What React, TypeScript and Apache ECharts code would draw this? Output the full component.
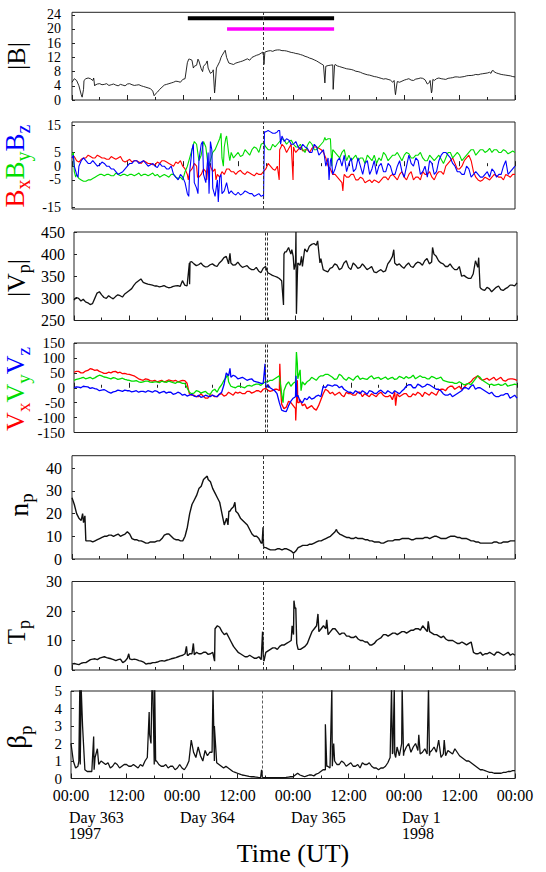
import React, { useEffect, useRef } from "react";
import * as echarts from "echarts";

// ---------- data (index = hour from Day 363 00:00 UT, 1997; *_MID = values at hour + 0.5) ----------
const CLOCK_LABELS = ["00:00", "12:00"];
const DAY_STARTS = [0, 24, 48, 72];
const DAY_LABELS = ["Day 363\n1997", "Day 364", "Day 365", "Day 1\n1998"];

const SHOCK_TIME = [41.4];
const SHOCK_TIME_DOUBLE = [41.35, 41.8];
const SHOCK_TIME_BETA = [41.3];

const BAR_BLACK = [25.1, 56.8];
const BAR_BLACK_LEVEL = 23;
const BAR_MAGENTA = [33.6, 56.8];
const BAR_MAGENTA_LEVEL = 20;

const B_MAG = [
  5, 5.5, 1.5, 6, 6, 4.2, 4.6, 4.4, 4.1, 4.5, 4.0, 4.2,
  4.5, 4.3, 4.2, 4.0, 3.6, 3.2, 1.6, 3.0, 4.2, 4.6, 5.0, 5.2,
  5.8, 10.5, 11.2, 9.8, 8.8, 10.2, 7.5, 3.5, 10.8, 13.6, 10.4, 10.0,
  10.6, 11.0, 11.6, 12.0, 12.6, 13.2, 13.6, 13.9, 14.0, 14.1, 13.9, 13.6,
  13.3, 13.0, 12.6, 12.1, 11.6, 11.0, 10.2, 9.5, 9.8, 10.0, 9.4, 9.0,
  8.7, 8.4, 8.0, 7.5, 7.1, 6.8, 6.5, 6.1, 6.0, 5.6, 2.5, 5.0,
  5.6, 6.0, 5.5, 6.0, 6.1, 4.5, 2.5, 6.0, 6.0, 5.8, 6.2, 6.5,
  6.4, 6.6, 6.9, 7.0, 7.1, 7.4, 7.6, 8.2, 7.6, 7.2, 7.0, 6.8,
  6.5,
];
const B_MAG_MID = [
  6, 4, 3, 6.2, 5.5, 4.5, 4.3, 4.6, 4.3, 4.2, 4.4, 4.0,
  4.6, 4.1, 4.3, 3.8, 3.4, 2.5, 2.2, 3.6, 4.4, 4.8, 5.3, 5.0,
  6.0, 11.5, 9.5, 11.0, 9.5, 9.0, 8.0, 9.5, 12.5, 12.0, 10.2, 10.4,
  10.8, 11.3, 11.2, 12.3, 12.8, 12.5, 13.8, 13.7, 14.1, 13.9, 13.8, 13.4,
  13.1, 12.8, 12.3, 11.8, 11.3, 10.6, 9.8, 9.7, 9.9, 9.6, 9.2, 8.8,
  8.6, 8.1, 7.8, 7.3, 7.0, 6.6, 6.3, 5.9, 5.8, 5.0, 5.2, 5.3,
  5.8, 5.6, 5.9, 6.2, 5.7, 5.0, 5.5, 6.2, 5.9, 6.1, 6.3, 6.5,
  6.5, 6.8, 6.9, 7.2, 7.3, 7.5, 7.8, 7.9, 7.4, 7.1, 6.9, 6.6,
];
const B_MAG_DETAIL = [
  [2.2, 0.8], [2.6, 5.5], [4.7, 6.2], [4.9, 4], [17.8, 1.2],
  [25.3, 11.5], [26.3, 9], [27.3, 11.5], [28.3, 8], [29.3, 11], [30.6, 8.5], [30.9, 2],
  [31.3, 9], [32.3, 12], [33.2, 14], [33.8, 11], [41.3, 13.5], [41.6, 10], [41.8, 13.5],
  [54.8, 4.8], [55.1, 9.6], [56.6, 3], [56.9, 9.8], [69.8, 5.5], [70.1, 1.5], [70.4, 4.5],
  [77.6, 5.5], [77.9, 2], [78.2, 5.8], [90.8, 7.5], [91.3, 8.3],
];

const B_X = [
  3, 2, 2.5, 3, 3.5, 3, 3.5, 3, 2.5, 3, 3, 2,
  2, 1.5, 2, 1, 1.5, 1, 0.5, 1, 2, 1, 0, 1,
  0, -3, -1, 0, -3, -2, 0, -1, -4, -3, -1, -2,
  -2, -2.5, -2, -3, -2.5, -3, -1, 0, -1.5, 6, 7, 6.5,
  7, 6, 5.5, 6, 6.5, 7, 6, 3, -1, -3, -5, -3,
  -4, -3, -5, -4.5, -5.5, -6, -5.5, -5, -4, -3.5, -4, -3,
  -4, -3, -5, -4, -2, -3, -4, -3, -2, 0, 2, 1,
  -1, 2, 4, -2, -5, -5, -4.5, -4, -3.5, -4, -3, -4,
  -3,
];
const B_X_MID = [
  3.5, 1.5, 3, 4, 3, 4, 3, 2.5, 3.5, 2.5, 3.5, 1.5,
  2.5, 2, 1.5, 2, 1, 0.5, 1.5, 2, 1.5, 0.5, 1.5, 2,
  -1, -2, 1, -4, -1, 1, -2, -3, -2, -1, -2, -3,
  -1.5, -3, -2.5, -3.5, -3, -2, 1, -1, 0, 8, 5, 8,
  5, 7, 6, 5, 7, 6.5, 5, 0, -3, -4, -6, -4,
  -3, -5, -4, -6, -5, -5, -6, -4, -5, -3, -5, -2,
  -5, -2, -4, -5, -3, -2, -5, -2, -3, 1, 3, -1,
  0, 3, 2, -4, -5.5, -4, -5, -3, -4, -5, -3.5, -3,
];
const B_X_DETAIL = [
  [25.2, -5], [27.2, -4], [29.2, -5], [31.2, -5], [44.9, -5], [45.3, 7], [47.9, -5], [48.2, 6],
  [58.7, -9], [58.9, -4],
];

const B_Y = [
  4, -3, -5, -5.5, -5, -4, -3, -3.5, -3, -3.5, -3, -3,
  -3.5, -3, -3, -3.5, -3, -3, -3.5, -4, -3, -4, -3, -4.5,
  -5, 0, 6, 8, 4, 7, 2, 6, 10, 7, 4, 3,
  5, 4, 5, 6, 6.5, 8, 7, 6, 7, 9, 9.5, 9,
  8, 7, 6, 7.5, 8, 6, 8, 9.5, 10, 5, 3, 6,
  4, 3, 2, 3, 4, 2, 1, 2, 4, 3, 4, 3.5,
  4, 4.5, 3, 4, 3, 2, 3, 3, 2.5, 3, 5, 4,
  4, 3, 5, 6, 5, 6, 5.5, 5, 6, 5, 5.5, 5,
  5,
];
const B_Y_MID = [
  -2, -4.5, -5.5, -5, -4.5, -3.5, -3, -3, -3.5, -2.5, -3.5, -3,
  -3, -3.5, -2.5, -3, -3.5, -2.5, -3, -3.5, -3.5, -3, -4, -4,
  -2, 3, 9, 2, 9, 0, 5, 8, 3, 11, 5, 4,
  3.5, 6, 4, 7, 5, 8.5, 6, 8, 8, 10, 8, 9.5,
  7, 8, 5, 9, 6, 7, 9, 10, 6, 4, 5, 2,
  2, 4, 3, 1, 3, 4, 3, 5, 2, 4, 5, 2,
  5, 3, 4, 5, 2, 4, 2, 4, 1, 5, 3, 5,
  2, 4, 6, 4, 6, 5, 6.5, 6, 5, 6, 4.5, 5.5,
];
const B_Y_DETAIL = [
  [0.3, 5], [0.8, -4], [32.3, 12], [32.8, 0], [33.3, 10], [34.2, 2], [54.8, 10.5], [56.3, 0],
];

const B_Z = [
  3, -3, 2, 2, 1, 1, 0.5, 1, 0, -1, -3, -2,
  0, 1, 2, 1.5, 1, 0.5, 0, 1, 0, -1, -3, -5,
  -4, -10, 6, -8, 8, -6, 9, -11, -4, -9, -10, -10,
  -9.5, -10, -9.5, -10, -10.5, -11, 12.5, 12.5, 12, 13, 9, 9.5,
  8, 7, 8, 6.5, 5, 7, 5, 0, 2, -1, 3, 4,
  1, -2, 3, -3, 2, -1, -3, 1, -2, 0, -3, 2,
  -4, 4, 0, 2, -2, -4, 1, -2, 4, 5, 3, 0,
  -2, -3, -1, -3, -3, -4, -2, -1, -4, -3, 2, -2,
  0,
];
const B_Z_MID = [
  0, 0, 3, 1, 2, 0, 1.5, 0, -1, -2, -2.5, -1,
  1, 2, 1, 2, 0, 1, -0.5, 0, -1, 0, -4, -3,
  -6, -2, -6, 2, -3, 5, -8, -5, -10, -6, -9, -10.5,
  -10.5, -9, -10, -11, -10, -10.5, 13, 12, 12.5, 11, 10, 8,
  9, 6, 7, 5, 8, 4, 6, 3, -3, 2, 0, -2,
  3, -1, 0, 1, -3, 2, 0, -2, 1, -3, 0, -2,
  0, 1, 3, -3, 0, 2, -3, 2, 5, 4, 1, -2,
  -3, 0, -4, -2, -4, -3, -4, -2, -3, 0, -3, -1,
];
const B_Z_DETAIL = [
  [0.3, 4], [1.3, -4], [25.3, -11], [26.3, 8], [27.3, -10], [28.3, 9], [29.7, -10],
  [30.3, 6], [31.7, -13], [32.3, -3], [41.5, -12], [41.7, 12.5], [44.7, 13], [45.2, 8],
  [55.7, -5], [56.2, 3],
];

const V_P = [
  296, 300, 298, 290, 288, 312, 308, 300, 302, 304, 306, 310,
  318, 330, 340, 336, 332, 330, 328, 327, 326, 325, 328, 327,
  330, 380, 378, 376, 374, 372, 378, 372, 385, 395, 380, 376,
  375, 372, 368, 365, 362, 368, 358, 352, 348, 340, 405, 400,
  380, 375, 412, 418, 424, 410, 365, 360, 370, 375, 368, 385,
  365, 375, 370, 372, 368, 360, 362, 360, 378, 395, 375, 372,
  375, 372, 378, 380, 385, 378, 400, 385, 378, 372, 370, 365,
  350, 348, 345, 385, 325, 318, 322, 320, 328, 318, 325, 330,
  335,
];
const V_P_MID = [
  302, 294, 292, 286, 300, 315, 302, 306, 299, 308, 303, 314,
  322, 336, 344, 334, 331, 328, 326, 329, 324, 327, 329, 340,
  328, 383, 374, 380, 371, 376, 374, 380, 392, 378, 375, 382,
  370, 374, 365, 370, 358, 372, 355, 350, 345, 400, 415, 395,
  380, 372, 405, 422, 420, 390, 362, 368, 378, 365, 380, 370,
  380, 368, 378, 365, 372, 358, 365, 362, 385, 380, 378, 368,
  380, 370, 382, 375, 390, 382, 395, 380, 372, 378, 365, 372,
  352, 345, 355, 370, 320, 325, 315, 325, 320, 322, 330, 328,
];
const V_P_DETAIL = [
  [25.05, 332], [25.15, 382], [33.8, 402], [45.4, 285], [45.7, 405], [47.2, 410],
  [47.7, 365], [48.1, 450], [48.2, 265], [48.4, 350], [49.3, 395], [52.8, 430],
  [53.3, 380], [69.3, 410], [77.7, 415], [87.7, 392], [88.2, 322],
];

const V_X = [
  52, 55, 50, 58, 62, 60, 52, 48, 50, 55, 52, 48,
  45, 40, 30, 25, 28, 22, 20, 25, 22, 24, 25, 22,
  24, -20, -25, -30, -28, -35, -25, -30, -20, -25, -20, -15,
  -15, -20, -12, -15, -10, -5, -8, -10, -5, -55, -65, -50,
  -70, -40, -55, -65, -70, -60, -20, -10, -15, -20, -25, -15,
  -20, -25, -15, -20, -30, -25, -20, -25, -30, -40, -20, -25,
  -20, -30, -25, -20, -15, -25, -20, -10, -5, 0, 5, 0,
  -5, 10, 20, 35, 30, 28, 25, 35, 30, 25, 28, 30,
  25,
];
const V_X_MID = [
  55, 50, 56, 64, 58, 55, 48, 52, 54, 50, 47, 46,
  42, 35, 27, 30, 24, 25, 22, 20, 26, 22, 20, 25,
  15, -25, -30, -20, -35, -25, -30, -22, -28, -15, -25, -18,
  -20, -12, -18, -10, -15, -2, -12, -5, -10, -70, -45, -60,
  -50, -60, -70, -60, -75, -40, -5, -20, -25, -15, -30, -20,
  -25, -15, -30, -25, -20, -30, -15, -30, -25, -15, -30, -20,
  -30, -20, -15, -30, -20, -15, -25, -5, -10, 5, -5, 5,
  0, 15, 30, 40, 25, 32, 30, 25, 35, 22, 30, 28,
];
const V_X_DETAIL = [
  [44.6, 80], [44.8, -10], [48.05, -110], [48.4, 25], [48.8, -50], [69.7, -60],
];

const V_Y = [
  25, 30, 35, 32, 30, 38, 40, 35, 30, 32, 30, 28,
  25, 22, 20, 20, 22, 18, 20, 22, 18, 20, 15, 18,
  15, -15, -18, -12, -15, -20, -10, -15, 10, 35, 5, 0,
  5, 0, 8, 10, 12, 15, 20, 25, 35, -20, 10, 5,
  20, 60, 10, 25, 30, 35, 40, 45, 35, 30, 40, 25,
  30, 35, 28, 30, 35, 30, 35, 32, 28, 35, 30, 35,
  38, 35, 30, 40, 35, 30, 35, 32, 25, 20, 18, 15,
  15, 12, 10, 30, 35, 20, 10, 8, 12, 10, 5, 10,
  10,
];
const V_Y_MID = [
  28, 32, 30, 35, 33, 42, 36, 32, 34, 28, 32, 26,
  22, 24, 18, 22, 19, 20, 17, 20, 22, 17, 20, 15,
  0, -20, -10, -18, -12, -22, -5, 0, 25, 20, 2, 5,
  2, 6, 5, 12, 8, 20, 25, 30, 40, -10, 20, 15,
  30, 20, 20, 35, 25, 40, 45, 40, 28, 45, 30, 35,
  25, 40, 32, 28, 40, 33, 28, 36, 32, 28, 38, 30,
  32, 42, 35, 35, 30, 38, 30, 36, 22, 18, 15, 20,
  10, 15, 20, 40, 25, 15, 12, 10, 8, 15, 8, 12,
];
const V_Y_DETAIL = [
  [33.3, 45], [45.3, -50], [48.2, 120], [48.4, 80], [49.2, -10],
];

const V_Z = [
  0, 2, 5, 3, 0, -5, -8, -10, -18, -12, -10, -8,
  -10, -12, -15, -12, -10, -15, -12, -15, -18, -15, -20, -18,
  -22, -25, -28, -25, -30, -28, -25, -30, -15, 50, 35, 38,
  32, 30, 28, 22, 18, 15, 10, -5, -20, -75, -80, -45,
  -30, -45, -35, -30, -35, -25, 5, 10, 5, 8, 5, -10,
  -15, -10, -20, -15, -10, -18, -12, -15, -10, -20, -15, -12,
  5, 10, 0, 8, 5, 10, 0, -5, -20, -25, -30, -20,
  -10, 0, 5, -5, 0, -10, -20, -25, -30, -25, -20, -30,
  -35,
];
const V_Z_MID = [
  3, 0, 4, -2, -3, -10, -6, -15, -14, -8, -12, -10,
  -14, -10, -12, -15, -12, -10, -18, -12, -15, -22, -15, -25,
  -28, -22, -30, -32, -25, -30, -28, -22, 10, 40, 42, 30,
  35, 25, 30, 20, 15, 25, 0, -10, -50, -78, -60, -35,
  -25, -50, -40, -38, -28, -30, 0, 8, 10, 0, -5, -15,
  -20, -15, -10, -22, -12, -20, -8, -20, -15, -10, -20, -5,
  10, 0, 12, 2, 12, 5, -5, -10, -25, -20, -25, -15,
  0, -5, 10, 0, -5, -15, -15, -30, -25, -20, -35, -25,
];
const V_Z_DETAIL = [
  [33.8, 65], [41.4, 80], [41.6, 0], [48.1, 40], [48.3, -30],
];

const N_P = [
  27, 20, 17, 8, 8, 8, 9, 10, 10.5, 10, 11, 10.5,
  12, 9, 8.5, 8, 7, 7.5, 7.5, 8, 10.5, 11, 9, 8.5,
  8, 14, 24, 28, 32, 36, 34, 29, 25, 15, 21, 23,
  20, 17, 15, 11, 10, 7, 5, 4, 4, 4.5, 4.5, 4,
  2.5, 5, 6, 6, 6.5, 7.5, 8, 9, 10, 12, 11, 10,
  9.5, 9, 9, 9, 8.5, 8, 7.5, 7, 7.5, 8, 8.5, 8.5,
  9, 9, 8.5, 9, 9, 9.5, 9.5, 10, 9, 9, 10, 10,
  9.5, 9, 8.5, 8, 7.5, 7, 7, 7, 7.5, 7, 7.5, 8,
  8,
];
const N_P_MID = [
  24, 18, 16, 8, 7.5, 8.5, 9.5, 10, 10.5, 10.5, 10, 11,
  11, 8.5, 8, 7.5, 7, 7.5, 8, 9, 11, 10, 8.5, 8,
  10, 20, 26, 31, 35, 35, 31, 27, 20, 18, 22, 21,
  18, 16, 13, 10, 9, 6, 4.5, 4, 4.5, 4, 4.5, 3.5,
  3.5, 5.5, 6, 6.5, 7, 8, 8.5, 9.5, 11, 12, 10.5, 9.5,
  9, 9.5, 9, 8.5, 8, 7.5, 7.5, 7, 8, 8, 8.5, 9,
  9, 8.5, 9, 9, 9.5, 9, 10, 9.5, 9, 9.5, 10, 9.5,
  9, 9, 8, 7.5, 7, 7, 7, 7.5, 7, 7.5, 7.5, 8,
];
const N_P_DETAIL = [
  [2.3, 20], [2.8, 19], [29.3, 36.5], [33.8, 15], [34.2, 21],
  [35.3, 25], [41.2, 7], [41.4, 14], [41.6, 5], [57.3, 13],
];

const T_P = [
  2, 2, 2.3, 2.5, 3.5, 3.8, 4, 4.5, 4, 3.5, 3.5, 2.5,
  4, 3.5, 3.5, 3, 2, 2.2, 2.5, 3, 3, 3.5, 4, 4.5,
  5, 5, 5.5, 6, 5.5, 6, 5.5, 14, 14.5, 12, 11, 8,
  6, 5, 4.5, 4.5, 4, 3.5, 6, 7, 7.5, 8, 8.5, 9.5,
  12, 7, 7.5, 9, 13, 15, 14, 14, 13, 14, 12, 12.5,
  11.5, 11, 10.5, 10, 9.5, 8.5, 10, 11, 12, 12, 12.5, 12.5,
  13, 13, 13.5, 14, 15, 13, 12.5, 12, 11, 10.5, 10, 9.5,
  9, 9, 9, 6, 5.5, 5, 5.5, 5.5, 6, 5.5, 5.5, 5,
  5,
];
const T_P_MID = [
  2.2, 1.8, 2.5, 3, 3.7, 3.5, 4.3, 4.2, 3.8, 3.2, 3.7, 3,
  3.8, 3.7, 3.2, 2.7, 2.2, 2.5, 2.7, 3.2, 3.3, 3.8, 4.2, 4.8,
  5.5, 5.5, 5.2, 5.5, 6, 5.3, 6, 15, 13, 12.5, 9.5, 7,
  5.5, 4.5, 5, 4, 4.5, 3.5, 6.5, 7.5, 7, 8.5, 9, 10,
  21, 7, 8, 11, 14, 13, 15, 12, 14, 13, 12.5, 11.5,
  11, 11.5, 10, 9.5, 8.5, 9, 10.5, 12, 11.5, 12.5, 12, 13,
  12.5, 13.5, 14, 13.5, 14, 13, 12, 11.5, 11.5, 10, 10, 9,
  9.5, 8.5, 9.5, 5.5, 6, 5.5, 6, 5, 6, 5, 6, 5.5,
];
const T_P_DETAIL = [
  [12.3, 5.5], [24.8, 8], [25.2, 5], [26.3, 9], [26.7, 5.5], [30.9, 3], [31.1, 14],
  [41.3, 13], [41.6, 3], [47.7, 15], [48.1, 23.5], [48.3, 21], [48.7, 9], [49.3, 7],
  [53.3, 19], [55.2, 17], [77.2, 16.5],
];

const BETA_P = [
  2, 0.6, 0.8, 0.5, 0.4, 0.5, 0.8, 0.9, 0.9, 0.7, 0.8, 0.7,
  0.8, 0.7, 0.7, 0.8, 1.0, 2.5, 0.8, 0.8, 0.7, 0.6, 0.7, 0.6,
  0.6, 0.7, 2.2, 1.2, 1.3, 1.6, 1.5, 1.0, 0.8, 0.6, 0.6, 0.4,
  0.3, 0.2, 0.15, 0.1, 0.08, 0.05, 0.05, 0.05, 0.05, 0.05, 0.05, 0.08,
  0.1, 0.3, 0.15, 0.15, 0.2, 0.25, 0.4, 0.5, 0.6, 1.0, 0.8, 0.9,
  0.8, 0.7, 0.8, 0.9, 0.8, 0.7, 0.6, 0.6, 0.7, 1.2, 1.4, 1.3,
  1.5, 2.0, 1.8, 1.6, 1.5, 1.4, 1.6, 1.5, 1.2, 1.3, 1.5, 1.7,
  1.3, 1.1, 1.0, 0.8, 0.6, 0.5, 0.4, 0.35, 0.3, 0.3, 0.35, 0.4,
  0.45,
];
const BETA_P_MID = [
  1, 0.7, 3, 0.4, 0.4, 1.5, 1.0, 0.8, 0.6, 0.9, 0.6, 0.8,
  0.7, 0.8, 0.6, 0.7, 1.2, 5.2, 1.0, 0.7, 0.8, 0.7, 0.5, 0.8,
  0.5, 1.0, 1.5, 1.8, 1.0, 1.3, 1.5, 0.9, 0.7, 0.7, 0.5, 0.35,
  0.25, 0.18, 0.12, 0.1, 0.06, 0.05, 0.05, 0.05, 0.05, 0.05, 0.06, 0.1,
  0.2, 0.2, 0.1, 0.2, 0.15, 0.3, 0.5, 0.7, 0.7, 0.8, 1.0, 0.7,
  0.9, 0.7, 0.6, 0.8, 0.9, 0.6, 0.5, 0.6, 0.9, 1.4, 1.8, 2.0,
  1.8, 1.5, 2.0, 1.4, 1.7, 1.3, 1.8, 2.2, 1.4, 1.6, 1.4, 1.5,
  1.2, 1.0, 0.9, 0.7, 0.5, 0.45, 0.35, 0.3, 0.3, 0.35, 0.4, 0.45,
];
const BETA_P_DETAIL = [
  [1.7, 1], [1.9, 5.2], [2.2, 5.2], [4.9, 2.4], [5.2, 1.2], [5.7, 1.7],
  [16.9, 3.8], [17.3, 2], [17.7, 5.2], [18.1, 5.2], [18.3, 1], [30.7, 5.2], [31.0, 3],
  [41.2, 0.5], [41.4, 0.05], [55.0, 3.1], [55.3, 0.7], [56.4, 5.2], [56.8, 2],
  [69.3, 5.2], [69.6, 1.5], [69.9, 5.2], [70.2, 1.2], [71.6, 5.2], [71.9, 1.3],
  [75.2, 2.5], [77.3, 5.2], [77.6, 1.5], [80.7, 2.2],
];

// y axis labels per panel
const Y_LABELS = [
  [0, 4, 8, 12, 16, 20, 24],
  [-15, -10, -5, 0, 5, 10, 15],
  [250, 300, 350, 400, 450],
  [-150, -100, -50, 0, 50, 100, 150],
  [0, 10, 20, 30, 40],
  [0, 10, 20, 30],
  [0, 1, 2, 3, 4, 5],
];
const Y_RANGES = [
  [0, 24.7],
  [-15.6, 16.1],
  [250, 450],
  [-150, 150],
  [0, 45.5],
  [0, 30],
  [0, 5],
];

// ---------- layout / style ----------
const FONT = "Liberation Serif";
const RED = "#ff0000";
const GREEN = "#00dd00";
const BLUE = "#0000ff";

const GRIDS = [
  { left: 72, top: 12.3, width: 443, height: 87.7 },
  { left: 72, top: 122, width: 443, height: 87 },
  { left: 74, top: 232, width: 443, height: 88.5 },
  { left: 74, top: 343, width: 443, height: 89.5 },
  { left: 72, top: 455.7, width: 443, height: 103.3 },
  { left: 72, top: 581.5, width: 443, height: 88.5 },
  { left: 71, top: 691, width: 444, height: 87.5 },
];
const Y_LABEL_SIZE = [14, 14, 16, 15, 16, 16, 15];
const Y_LABEL_MARGIN = [11, 11, 9, 9, 10, 10, 9];

function merge(base: number[], mid: number[], detail: number[][]) {
  const pts = base
    .map((v, i) => [i, v])
    .concat(mid.map((v, i) => [i + 0.5, v]))
    .concat(detail);
  pts.sort((a, b) => a[0] - b[0]);
  return pts;
}

function markLineFor(times: number[], width = 1) {
  return {
    silent: true,
    symbol: "none",
    label: { show: false },
    lineStyle: { type: [3, 2], color: "#333", width },
    data: times.map((t) => ({ xAxis: t })),
  };
}

function lineSeries(k: number, data: number[][], color: string, width: number, extra: any = {}) {
  return {
    type: "line",
    xAxisIndex: k,
    yAxisIndex: k,
    data,
    symbol: "none",
    showSymbol: false,
    clip: true,
    lineStyle: { color, width },
    itemStyle: { color },
    z: 2,
    ...extra,
  };
}

function titleText(x: number, y: number, text: string, rich: any) {
  return {
    type: "text",
    x,
    y,
    rotation: Math.PI / 2,
    style: {
      text,
      rich,
      align: "center",
      verticalAlign: "middle",
      textAlign: "center",
      textVerticalAlign: "middle",
      fill: "#000",
      font: `26px "${FONT}"`,
    },
  };
}

function mainTok(color: string, size: number) {
  return { fontSize: size, fontFamily: FONT, fill: color, color, lineHeight: size };
}
function subTok(color: string, size: number, drop: number) {
  return { fontSize: size, fontFamily: FONT, fill: color, color, lineHeight: size, padding: [drop, 0, 0, 0] };
}

export default function App() {
  const ref = useRef<HTMLDivElement>(null);

  useEffect(() => {
    if (!ref.current) return;
    const chart = echarts.init(ref.current, undefined, { renderer: "svg" });

    const xAxes: any[] = GRIDS.map((_, k) => ({
      gridIndex: k,
      type: "value",
      min: 0,
      max: 96,
      interval: 12,
      axisLine: { show: false },
      axisTick: { show: true, inside: true, length: 5, lineStyle: { color: "#222", width: 1 } },
      minorTick: { show: true, splitNumber: 2, length: 3, lineStyle: { color: "#222", width: 1 } },
      splitLine: { show: false },
      minorSplitLine: { show: false },
      axisLabel: {
        show: k === 6,
        formatter: (v: number) => CLOCK_LABELS[Math.round(v / 12) % 2],
        fontFamily: FONT,
        fontSize: 16,
        color: "#000",
        margin: 9,
        showMinLabel: true,
        showMaxLabel: true,
      },
      ...(k === 6
        ? {
            name: "Time (UT)",
            nameLocation: "middle",
            nameGap: 62,
            nameTextStyle: { fontFamily: FONT, fontSize: 26, color: "#000" },
          }
        : {}),
    }));
    xAxes.push({
      gridIndex: 6,
      type: "value",
      position: "bottom",
      min: 0,
      max: 96,
      axisLine: { show: false },
      axisTick: { show: false },
      splitLine: { show: false },
      axisLabel: {
        customValues: DAY_STARTS,
        interval: 0,
        formatter: (v: number) => DAY_LABELS[DAY_STARTS.indexOf(v)] ?? "",
        align: "left",
        fontFamily: FONT,
        fontSize: 16,
        lineHeight: 16,
        color: "#000",
        margin: 31,
        padding: [0, 0, 0, -2],
        showMinLabel: true,
        showMaxLabel: true,
      },
    });

    const yAxes = GRIDS.map((_, k) => ({
      gridIndex: k,
      type: "value",
      min: Y_RANGES[k][0],
      max: Y_RANGES[k][1],
      axisLine: { show: false },
      axisTick: {
        show: true,
        inside: true,
        length: 3,
        interval: 0,
        customValues: Y_LABELS[k],
        lineStyle: { color: "#222" },
      },
      splitLine: { show: false },
      axisLabel: {
        customValues: Y_LABELS[k],
        interval: 0,
        fontFamily: FONT,
        fontSize: Y_LABEL_SIZE[k],
        lineHeight: Y_LABEL_SIZE[k] - 2,
        color: "#000",
        margin: Y_LABEL_MARGIN[k],
        showMinLabel: true,
        showMaxLabel: true,
      },
    }));

    const series: any[] = [
      lineSeries(0, merge(B_MAG, B_MAG_MID, B_MAG_DETAIL), "#111", 0.9, { markLine: markLineFor(SHOCK_TIME) }),
      lineSeries(0, [[BAR_BLACK[0], BAR_BLACK_LEVEL], [BAR_BLACK[1], BAR_BLACK_LEVEL]], "#000", 4),
      lineSeries(0, [[BAR_MAGENTA[0], BAR_MAGENTA_LEVEL], [BAR_MAGENTA[1], BAR_MAGENTA_LEVEL]], "#ff00ff", 3.5),
      lineSeries(1, merge(B_X, B_X_MID, B_X_DETAIL), RED, 1.1, { markLine: markLineFor(SHOCK_TIME) }),
      lineSeries(1, merge(B_Y, B_Y_MID, B_Y_DETAIL), GREEN, 1.1),
      lineSeries(1, merge(B_Z, B_Z_MID, B_Z_DETAIL), BLUE, 1.1),
      lineSeries(2, merge(V_P, V_P_MID, V_P_DETAIL), "#111", 1.3, { markLine: markLineFor(SHOCK_TIME_DOUBLE) }),
      lineSeries(3, merge(V_X, V_X_MID, V_X_DETAIL), RED, 1.3, { markLine: markLineFor(SHOCK_TIME_DOUBLE) }),
      lineSeries(3, merge(V_Y, V_Y_MID, V_Y_DETAIL), GREEN, 1.3),
      lineSeries(3, merge(V_Z, V_Z_MID, V_Z_DETAIL), BLUE, 1.3),
      lineSeries(4, merge(N_P, N_P_MID, N_P_DETAIL), "#111", 1.4, { markLine: markLineFor(SHOCK_TIME) }),
      lineSeries(5, merge(T_P, T_P_MID, T_P_DETAIL), "#111", 1.4, { markLine: markLineFor(SHOCK_TIME) }),
      lineSeries(6, merge(BETA_P, BETA_P_MID, BETA_P_DETAIL), "#111", 1.3, {
        markLine: markLineFor(SHOCK_TIME_BETA, 0.8),
      }),
    ];

    const graphic = [
      titleText(16, 56, "{m||B|}", { m: mainTok("#000", 26) }),
      titleText(15, 166, "{a|B}{as|x}{b|B}{bs|y}{c|B}{cs|z}", {
        a: mainTok(RED, 27), as: subTok(RED, 20, 16),
        b: mainTok(GREEN, 27), bs: subTok(GREEN, 20, 16),
        c: mainTok(BLUE, 27), cs: subTok(BLUE, 20, 16),
      }),
      titleText(16, 278, "{m||V}{s|p}{m||}", { m: mainTok("#000", 26), s: subTok("#000", 18, 16) }),
      titleText(15, 389, "{a|V}{as|x}{b|V}{bs|y}{c|V}{cs|z}", {
        a: mainTok(RED, 26), as: subTok(RED, 19, 16),
        b: mainTok(GREEN, 26), bs: subTok(GREEN, 19, 16),
        c: mainTok(BLUE, 26), cs: subTok(BLUE, 19, 16),
      }),
      titleText(18, 505, "{m|n}{s|p}", { m: mainTok("#000", 28), s: subTok("#000", 19, 16) }),
      titleText(16, 632, "{m|T}{s|p}", { m: mainTok("#000", 25), s: subTok("#000", 18, 16) }),
      titleText(17, 737, "{m|β}{s|p}", { m: mainTok("#000", 27), s: subTok("#000", 19, 16) }),
    ];

    chart.setOption({
      animation: false,
      backgroundColor: "#fff",
      textStyle: { fontFamily: FONT },
      grid: GRIDS.map((g) => ({ ...g, show: true, borderColor: "#222", borderWidth: 1, backgroundColor: "transparent" })),
      xAxis: xAxes,
      yAxis: yAxes,
      series,
      graphic,
    });

    return () => chart.dispose();
  }, []);

  return (
    <div
      ref={ref}
      style={{ position: "fixed", left: 0, top: 0, width: 546, height: 872, background: "#fff" }}
    />
  );
}
